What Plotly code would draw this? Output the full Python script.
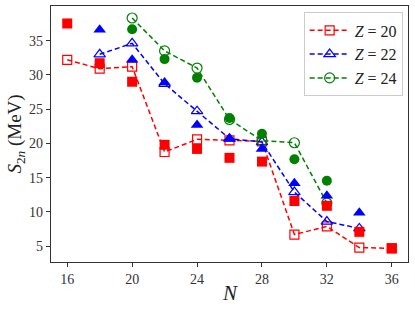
import plotly.graph_objects as go

# Theory (open markers, dashed lines)
n_z20 = [16, 18, 20, 22, 24, 26, 28, 30, 32, 34, 36]
s_z20 = [32.2, 30.9, 31.2, 18.75, 20.6, 20.45, 20.3, 6.7, 7.9, 4.8, 4.7]
n_z22 = [18, 20, 22, 24, 26, 28, 30, 32, 34]
s_z22 = [33.0, 34.6, 28.7, 24.7, 20.7, 20.2, 12.9, 8.6, 7.6]
n_z24 = [20, 22, 24, 26, 28, 30, 32]
s_z24 = [38.3, 33.5, 31.0, 23.5, 20.4, 20.1, 11.3]

# Experiment (filled markers)
n_e20 = [16, 18, 20, 22, 24, 26, 28, 30, 32, 34, 36]
s_e20 = [37.5, 31.7, 29.0, 19.8, 19.2, 17.9, 17.35, 11.6, 10.9, 7.1, 4.7]
n_e22 = [18, 20, 22, 24, 26, 28, 30, 32, 34]
s_e22 = [36.6, 32.2, 28.9, 22.7, 20.7, 19.2, 14.2, 12.35, 9.9]
n_e24 = [20, 22, 24, 26, 28, 30, 32]
s_e24 = [36.65, 32.3, 29.6, 23.7, 21.4, 17.7, 14.55]

x_ticks = [16, 20, 24, 28, 32, 36]
y_ticks = [5, 10, 15, 20, 25, 30, 35]

RED, BLUE, GREEN = "#ff0000", "#0000ff", "#008000"
FONT = "Liberation Serif"

fig = go.Figure()

theory = [
    (n_z20, s_z20, RED, "square-open", 9, "<i>Z</i> = 20"),
    (n_z22, s_z22, BLUE, "triangle-up-open", 10, "<i>Z</i> = 22"),
    (n_z24, s_z24, GREEN, "circle-open", 10, "<i>Z</i> = 24"),
]
for n, s, c, sym, sz, name in theory:
    fig.add_trace(go.Scatter(
        x=n, y=s, mode="lines+markers", name=name,
        line=dict(color=c, width=1.5, dash="5px,3px"),
        marker=dict(symbol=sym, size=sz, color=c, line=dict(color=c, width=1.2)),
    ))

expt = [
    (n_e20, s_e20, RED, "square", 10),
    (n_e22, s_e22, BLUE, "triangle-up", 11),
    (n_e24, s_e24, GREEN, "circle", 10),
]
for n, s, c, sym, sz in expt:
    fig.add_trace(go.Scatter(
        x=n, y=s, mode="markers", showlegend=False,
        marker=dict(symbol=sym, size=sz, color=c, line=dict(width=0)),
    ))

axis_common = dict(
    showgrid=False, zeroline=False, showline=True, mirror=True,
    linecolor="#333333", linewidth=1.2, ticks="outside", ticklen=4,
    tickcolor="#333333", tickfont=dict(family=FONT, size=14, color="#333333"),
    automargin=False,
)

fig.update_layout(
    width=415, height=310,
    margin=dict(l=51, r=7, t=6, b=48),
    plot_bgcolor="white", paper_bgcolor="white",
    font=dict(family=FONT, color="#222222"),
    xaxis=dict(range=[15.0, 37.0], tickvals=x_ticks, **axis_common),
    yaxis=dict(range=[2.7, 40.05], tickvals=y_ticks,
               title=dict(text="<i>S</i><sub>2<i>n</i></sub> (MeV)", font=dict(family=FONT, size=19), standoff=2),
               **axis_common),
    legend=dict(x=0.985, y=0.975, xanchor="right", yanchor="top",
                bgcolor="white", bordercolor="#cccccc", borderwidth=1,
                font=dict(family=FONT, size=16, color="#222222"),
                itemwidth=40, tracegroupgap=0),
)

fig.add_annotation(text="<i>N</i>", xref="paper", yref="paper", x=0.5, y=-0.12,
                   xanchor="center", yanchor="middle", showarrow=False,
                   font=dict(family=FONT, size=21, color="#222222"))

fig.write_html("out.html", config={"displayModeBar": False},
               post_script="document.body.style.margin='0';")
